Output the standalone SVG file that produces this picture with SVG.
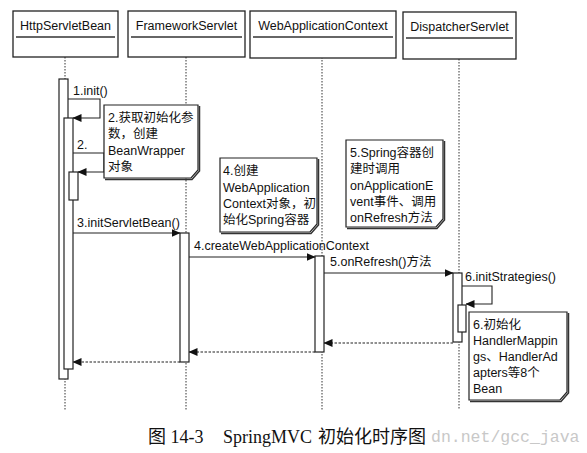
<svg xmlns="http://www.w3.org/2000/svg" width="587" height="453" viewBox="0 0 587 453">
<defs>
<marker id="arr" markerWidth="9" markerHeight="8" refX="8.5" refY="4" orient="auto" markerUnits="userSpaceOnUse">
<path d="M0,0 L9,4 L0,8 Z" fill="#111"/>
</marker>
</defs>
<style>
.hdr{fill:#fff;stroke:#222;stroke-width:1.3}
.ul{stroke:#333;stroke-width:1.6}
.t{font-family:"Liberation Sans","Noto Sans CJK SC",sans-serif;font-size:12.5px;fill:#111}
.life{stroke:#333;stroke-width:1;stroke-dasharray:1.5,1.5;fill:none}
.act{fill:#fff;stroke:#222;stroke-width:1.2}
.msg{stroke:#222;stroke-width:1.1;fill:none;marker-end:url(#arr)}
.ret{stroke:#222;stroke-width:1.1;fill:none;stroke-dasharray:2.5,1.5;marker-end:url(#arr)}
.note{fill:#fff;stroke:#222;stroke-width:1.2}
.shadow{fill:none;stroke:#333;stroke-width:1.5}
.cap{font-family:"Liberation Serif","Noto Sans CJK SC",serif;font-size:18px;fill:#111}
.wm{font-family:"Liberation Mono",monospace;font-size:16.5px;fill:#c8c8c8}
</style>
<rect width="587" height="453" fill="#fff"/>

<g id="lifelines">
<line class="life" x1="65" y1="57" x2="65" y2="410"/>
<line class="life" x1="186" y1="57" x2="186" y2="410"/>
<line class="life" x1="322" y1="57" x2="322" y2="410"/>
<line class="life" x1="459" y1="59" x2="459" y2="410"/>
</g>

<g id="HttpServletBean">
<rect class="hdr" x="13" y="11" width="105" height="46"/>
<line class="ul" x1="16" y1="37" x2="115" y2="37"/>
<text class="t" x="65.5" y="30" text-anchor="middle">HttpServletBean</text>
</g>
<g id="FrameworkServlet">
<rect class="hdr" x="128" y="11" width="117" height="46"/>
<line class="ul" x1="131" y1="37" x2="242" y2="37"/>
<text class="t" x="186.5" y="30" text-anchor="middle">FrameworkServlet</text>
</g>
<g id="WebApplicationContext">
<rect class="hdr" x="250" y="11" width="146" height="47"/>
<line class="ul" x1="253" y1="37" x2="393" y2="37"/>
<text class="t" x="323" y="30" text-anchor="middle">WebApplicationContext</text>
</g>
<g id="DispatcherServlet">
<rect class="hdr" x="403" y="12" width="113" height="47"/>
<line class="ul" x1="406" y1="38" x2="513" y2="38"/>
<text class="t" x="459.5" y="31" text-anchor="middle">DispatcherServlet</text>
</g>

<g id="activations">
<rect class="act" x="59" y="79" width="9" height="300"/>
<rect class="act" x="64" y="118" width="9" height="251"/>
<rect class="act" x="69" y="172" width="9" height="28"/>
<rect class="act" x="180" y="233" width="9" height="129"/>
<rect class="act" x="315" y="256" width="9" height="96"/>
<rect class="act" x="453" y="273" width="9" height="69"/>
<rect class="act" x="458" y="305" width="8" height="27"/>
</g>

<g id="connectors">
<path class="msg" d="M68,99 H100 V118 H73"/>
<path class="msg" d="M73,153 H104 V172 H78"/>
<path class="msg" d="M73,233 H180"/>
<path class="msg" d="M189,257 H315"/>
<path class="msg" d="M324,273 H453"/>
<path class="msg" d="M462,286 H492 V304 H466"/>
<path class="ret" d="M453,343 H324"/>
<path class="ret" d="M315,352 H189"/>
<path class="ret" d="M180,362 H73"/>
</g>

<g id="labels">
<text class="t" x="73" y="95">1.init()</text>
<text class="t" x="77" y="149">2.</text>
<text class="t" x="77" y="227">3.initServletBean()</text>
<text class="t" x="194" y="250">4.createWebApplicationContext</text>
<text class="t" x="330" y="266">5.onRefresh()方法</text>
<text class="t" x="465" y="281">6.initStrategies()</text>
</g>

<g id="note1">
<path class="shadow" d="M199.5,106 V171 L192,179.5 H105"/>
<path class="note" d="M104,105 H198 V170 L191,178 H104 Z"/>
<text class="t" x="108" y="122">2.获取初始化参</text>
<text class="t" x="108" y="138">数，创建</text>
<text class="t" x="108" y="155">BeanWrapper</text>
<text class="t" x="108" y="171">对象</text>
</g>
<g id="note2">
<path class="shadow" d="M318.5,159 V225 L311,233.5 H221"/>
<path class="note" d="M220,158 H317 V224 L310,232 H220 Z"/>
<text class="t" x="223" y="175">4.创建</text>
<text class="t" x="223" y="192">WebApplication</text>
<text class="t" x="223" y="208">Context对象，初</text>
<text class="t" x="223" y="224">始化Spring容器</text>
</g>
<g id="note3">
<path class="shadow" d="M444.5,141 V220 L437,228.5 H347"/>
<path class="note" d="M346,140 H443 V219 L436,227 H346 Z"/>
<text class="t" x="350" y="157">5.Spring容器创</text>
<text class="t" x="350" y="173">建时调用</text>
<text class="t" x="350" y="190">onApplicationE</text>
<text class="t" x="350" y="206">vent事件、调用</text>
<text class="t" x="350" y="222">onRefresh方法</text>
</g>
<g id="note4">
<path class="shadow" d="M568.5,313 V393 L561,401.5 H470"/>
<path class="note" d="M469,312 H567 V392 L560,400 H469 Z"/>
<text class="t" x="473" y="329">6.初始化</text>
<text class="t" x="473" y="345">HandlerMappin</text>
<text class="t" x="473" y="361">gs、HandlerAd</text>
<text class="t" x="473" y="377">apters等8个</text>
<text class="t" x="473" y="393">Bean</text>
</g>

<g id="caption">
<text class="cap" x="148" y="443">图 14-3</text>
<text class="cap" x="223" y="443">SpringMVC</text>
<text class="cap" x="318" y="443">初始化时序图</text>
<text class="wm" x="431" y="442">dn.net/gcc_java</text>
</g>
</svg>
